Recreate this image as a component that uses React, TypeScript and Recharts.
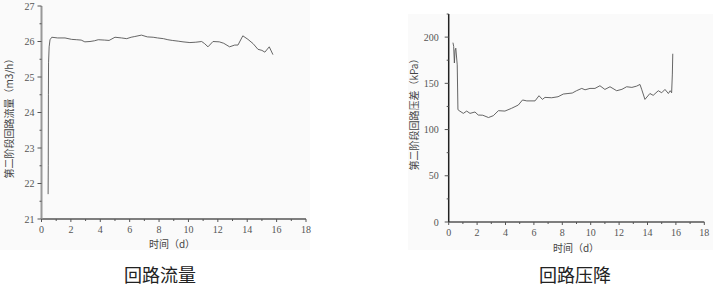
import React from 'react';
import { LineChart, Line, XAxis, YAxis } from 'recharts';

const flowTime = [0.45, 0.46, 0.47, 0.48, 0.52, 0.58, 0.7, 1.1, 1.6, 2.05, 2.4, 2.7, 2.95, 3.3, 3.6, 3.86, 4.3, 4.6, 5.0, 5.45, 5.8, 6.1, 6.35, 6.8, 7.2, 7.6, 7.9, 8.3, 8.6, 8.9, 9.3, 9.63, 10.1, 10.5, 10.9, 11.1, 11.33, 11.67, 12.1, 12.4, 12.8, 13.15, 13.37, 13.7, 14.05, 14.4, 14.73, 15.0, 15.2, 15.5, 15.75];
const flowValue = [21.7, 22.5, 24.5, 25.4, 25.85, 26.05, 26.12, 26.1, 26.1, 26.06, 26.05, 26.04, 25.99, 26.0, 26.02, 26.05, 26.04, 26.03, 26.12, 26.1, 26.08, 26.12, 26.14, 26.18, 26.13, 26.12, 26.1, 26.08, 26.05, 26.03, 26.01, 25.99, 25.97, 25.98, 26.0, 25.94, 25.85, 26.0, 25.99, 25.95, 25.85, 25.9, 25.9, 26.16, 26.06, 25.94, 25.78, 25.75, 25.7, 25.85, 25.63];

const dpTime = [0.3, 0.35, 0.4, 0.45, 0.5, 0.6, 0.65, 0.68, 1.03, 1.27, 1.5, 1.85, 2.08, 2.4, 2.8, 3.14, 3.5, 3.96, 4.43, 4.9, 5.2, 5.5, 6.08, 6.36, 6.6, 6.78, 7.25, 7.7, 8.07, 8.4, 8.7, 9.0, 9.37, 9.6, 9.95, 10.3, 10.65, 11.0, 11.36, 11.83, 12.2, 12.53, 12.9, 13.24, 13.47, 13.6, 13.82, 14.17, 14.4, 14.76, 15.0, 15.23, 15.47, 15.6, 15.7, 15.75, 15.78];
const dpValue = [194, 190, 172, 186, 188, 170, 122, 121, 117.5, 120, 117.5, 119, 115.7, 115.5, 113, 115, 120.4, 120, 123, 126.5, 132, 131, 131, 136.6, 132.6, 134.8, 134.4, 135.5, 138.4, 139, 139.5, 142, 144.5, 143, 144.5, 144.5, 147.4, 143.4, 146.3, 142, 143.5, 146.3, 145.6, 147, 148.8, 143, 132.6, 139, 137, 142, 139.8, 143.4, 139, 142, 139.8, 160, 182];

const xTicks = [0, 1, 2, 3, 4, 5, 6, 7, 8, 9, 10, 11, 12, 13, 14, 15, 16, 17, 18];
const flowTicks = [21, 21.5, 22, 22.5, 23, 23.5, 24, 24.5, 25, 25.5, 26, 26.5, 27];
const dpTicks = [0, 25, 50, 75, 100, 125, 150, 175, 200, 225];

const flowData = flowTime.map((t, i) => ({ t, v: flowValue[i] }));
const dpData = dpTime.map((t, i) => ({ t, v: dpValue[i] }));

const tickFont = '"Liberation Serif", "DejaVu Serif", serif';

const XTick = (props: any) => {
  const { x, y, payload } = props;
  const v = payload.value;
  const major = v % 2 === 0;
  return (
    <g>
      <line x1={x} x2={x} y1={y} y2={y + (major ? 3 : 2)} stroke="#555" strokeWidth={1} />
      {major && (
        <text x={x} y={y + 14} textAnchor="middle" fontSize={10} fill="#555" fontFamily={tickFont}>
          {v}
        </text>
      )}
    </g>
  );
};

const makeYTick = (step: number, gap: number) => (props: any) => {
  const { x, y, payload } = props;
  const v = payload.value;
  const major = v % step === 0;
  return (
    <g>
      <line x1={x} x2={x - (major ? 4 : 2)} y1={y} y2={y} stroke="#555" strokeWidth={1} />
      {major && (
        <text x={x - gap} y={y + 3.5} textAnchor="end" fontSize={10} fill="#555" fontFamily={tickFont}>
          {v}
        </text>
      )}
    </g>
  );
};

const FlowYTick = makeYTick(1, 7);
const DpYTick = makeYTick(50, 10);

const cjk = '"Noto Sans CJK SC", "Noto Sans", sans-serif';

export default function App() {
  return (
    <div style={{ position: 'absolute', left: 0, top: 0, width: 713, height: 287, background: '#fff', overflow: 'hidden' }}>
      <div style={{ position: 'absolute', left: 0, top: 0, width: 310, height: 250, background: '#fafafa' }} />
      <div style={{ position: 'absolute', left: 408, top: 14, width: 305, height: 236, background: '#fafafa' }} />
      <div style={{ position: 'absolute', left: 0, top: 0 }}>
        <LineChart width={320} height={250} data={flowData} margin={{ top: 6, right: 14, bottom: 0, left: 0 }}>
          <XAxis
            dataKey="t"
            type="number"
            domain={[0, 18]}
            ticks={xTicks}
            interval={0}
            height={31}
            tickSize={0}
            tickMargin={0}
            tick={<XTick />}
            axisLine={{ stroke: '#555', strokeWidth: 1.5 }}
          />
          <YAxis
            type="number"
            domain={[21, 27]}
            ticks={flowTicks}
            interval={0}
            width={41.5}
            tickSize={0}
            tickMargin={0}
            tick={<FlowYTick />}
            axisLine={{ stroke: '#999', strokeWidth: 2 }}
          />
          <Line dataKey="v" stroke="#555" strokeWidth={0.9} dot={false} isAnimationActive={false} />
        </LineChart>
      </div>
      <div style={{ position: 'absolute', left: 400, top: 0 }}>
        <LineChart width={313} height={250} data={dpData} margin={{ top: 14, right: 8.7, bottom: 0, left: 0 }}>
          <XAxis
            dataKey="t"
            type="number"
            domain={[0, 18]}
            ticks={xTicks}
            interval={0}
            height={28}
            tickSize={0}
            tickMargin={0}
            tick={<XTick />}
            axisLine={{ stroke: '#555', strokeWidth: 1.5 }}
          />
          <YAxis
            type="number"
            domain={[0, 225]}
            ticks={dpTicks}
            interval={0}
            width={48.7}
            tickSize={0}
            tickMargin={0}
            tick={<DpYTick />}
            axisLine={{ stroke: '#222', strokeWidth: 1.5 }}
          />
          <Line dataKey="v" stroke="#555" strokeWidth={0.9} dot={false} isAnimationActive={false} />
        </LineChart>
      </div>

      <div style={{ position: 'absolute', left: 8, top: 116, width: 0, height: 0 }}>
        <div style={{ position: 'absolute', left: 0, top: 0, transform: 'translate(-50%, -50%) rotate(-90deg)', whiteSpace: 'nowrap', fontSize: 10, color: '#444', fontFamily: cjk }}>
          第二阶段回路流量（m3/h）
        </div>
      </div>
      <div style={{ position: 'absolute', left: 413, top: 112, width: 0, height: 0 }}>
        <div style={{ position: 'absolute', left: 0, top: 0, transform: 'translate(-50%, -50%) rotate(-90deg)', whiteSpace: 'nowrap', fontSize: 10, color: '#444', fontFamily: cjk }}>
          第二阶段回路压差（kPa）
        </div>
      </div>

      <div style={{ position: 'absolute', left: 172, top: 243, transform: 'translate(-50%, -50%)', whiteSpace: 'nowrap', fontSize: 10, color: '#444', fontFamily: cjk }}>
        时间（d）
      </div>
      <div style={{ position: 'absolute', left: 576, top: 247, transform: 'translate(-50%, -50%)', whiteSpace: 'nowrap', fontSize: 10, color: '#444', fontFamily: cjk }}>
        时间（d）
      </div>

      <div style={{ position: 'absolute', left: 160, top: 274, transform: 'translate(-50%, -50%)', whiteSpace: 'nowrap', fontSize: 18, color: '#222', fontFamily: cjk }}>
        回路流量
      </div>
      <div style={{ position: 'absolute', left: 575, top: 274, transform: 'translate(-50%, -50%)', whiteSpace: 'nowrap', fontSize: 18, color: '#222', fontFamily: cjk }}>
        回路压降
      </div>
    </div>
  );
}
